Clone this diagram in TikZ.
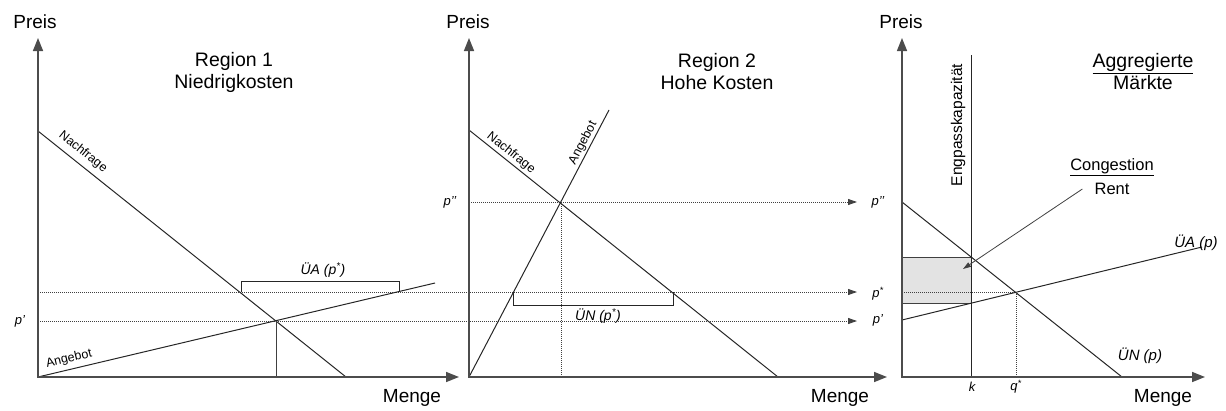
\documentclass[tikz,border=0pt]{standalone}
\usepackage{fontspec}
\setmainfont{Liberation Sans}
\usetikzlibrary{arrows.meta}
\begin{document}
\begin{tikzpicture}[x=1pt,y=-1pt,
 axis/.style={line width=1.5pt, draw=black!70, line join=miter,
   {Triangle[length=13pt,width=10pt]}-{Triangle[length=13pt,width=10pt]}},
 curve/.style={line width=1pt, draw=black!85},
 thin/.style={line width=0.8pt, draw=black!75},
 guide/.style={line width=0.9pt, draw=black!75, dash pattern=on 1pt off 1pt},
 guidearrow/.style={guide, -{Triangle[length=9pt,width=6pt]}},
 big/.style={font=\fontsize{19}{21}\selectfont, inner sep=0pt},
 title/.style={font=\fontsize{19.5}{22}\selectfont, align=center, inner sep=0pt},
 lab/.style={font=\fontsize{13}{15}\selectfont\itshape, inner sep=0pt},
 curvelab/.style={font=\fontsize{12.5}{14}\selectfont, inner sep=0pt},
 note/.style={font=\fontsize{16.5}{21}\selectfont, inner sep=0pt},
]
\useasboundingbox (0,0) rectangle (1226,410);

% ---------- Panel 1 ----------
\coordinate (O1) at (38,377);
\coordinate (Y1) at (38,38);
\coordinate (X1) at (459,377);
\coordinate (D1a) at (38,131);
\coordinate (D1b) at (346,377);
\coordinate (S1b) at (435,283);
\coordinate (E1) at (276,321);
\coordinate (E1x) at (276,377);

% ---------- Panel 2 ----------
\coordinate (O2) at (469,377);
\coordinate (Y2) at (469,38);
\coordinate (X2) at (887,377);
\coordinate (D2a) at (469,130);
\coordinate (D2b) at (778,377);
\coordinate (S2b) at (609,110);
\coordinate (E2) at (561,202);
\coordinate (E2x) at (561,377);

% ---------- Panel 3 ----------
\coordinate (O3) at (902,377);
\coordinate (Y3) at (902,38);
\coordinate (X3) at (1205,377);
\coordinate (Ka) at (971,55);
\coordinate (Kb) at (971,377);
\coordinate (Na) at (902,202);
\coordinate (Nb) at (1122,377);
\coordinate (Aa) at (902,320);
\coordinate (Ab) at (1202,247);
\coordinate (E3) at (1016,292);
\coordinate (E3x) at (1016,377);

% guide lines across panels
\coordinate (ppL) at (469,202);
\coordinate (ppR) at (857,202);
\coordinate (psL) at (38,292);
\coordinate (psR) at (857,292);
\coordinate (p1L) at (38,321);
\coordinate (p1R) at (857,321);

% shaded congestion rent
\fill[gray!22] (902,257) rectangle (971,303);
\draw[thin] (902,257) -- (971,257);
\draw[thin] (902,303) -- (971,303);
\draw[guide] (902,292) -- (E3);

\draw[guidearrow] (ppL) -- (ppR);
\draw[guidearrow] (psL) -- (psR);
\draw[guidearrow] (p1L) -- (p1R);

% panel 1 curves
\draw[curve] (D1a) -- (D1b);
\draw[curve] (O1) -- (S1b);
\draw[thin] (E1) -- (E1x);
\draw[curve] (241,292) -- (241,281) -- (399,281) -- (399,292);

% panel 2 curves
\draw[curve] (D2a) -- (D2b);
\draw[curve] (O2) -- (S2b);
\draw[guide] (E2) -- (E2x);
\draw[curve] (513,292) -- (513,305) -- (673,305) -- (673,292);

% panel 3 curves
\draw[curve] (Ka) -- (Kb);
\draw[curve] (Na) -- (Nb);
\draw[curve] (Aa) -- (Ab);
\draw[guide] (E3) -- (E3x);

% axes
\draw[axis] (Y1) -- (O1) -- (X1);
\draw[axis] (Y2) -- (O2) -- (X2);
\draw[axis] (Y3) -- (O3) -- (X3);

% axis labels
\node[big] (pr1) at (35,22) {Preis};
\node[big] (pr2) at (468,22) {Preis};
\node[big] (pr3) at (901,22) {Preis};
\node[big] (me1) at (412,398) {Menge};
\node[big] (me2) at (840,398) {Menge};
\node[big] (me3) at (1163,398) {Menge};

% titles
\node[title] (t1) at (234,72) {Region 1\\Niedrigkosten};
\node[title] (t2) at (717,72) {Region 2\\Hohe Kosten};
\node[title] (t3) at (1143,72) {\underline{Aggregierte}\\Märkte};

% curve labels
\node[curvelab, rotate=-38.7] (n1) at (83,152) {Nachfrage};
\node[curvelab, rotate=13.1] (a1) at (69,359) {Angebot};
\node[curvelab, rotate=-38.6] (n2) at (511,153) {Nachfrage};
\node[curvelab, rotate=62.5] (a2) at (583,143) {Angebot};
\node[curvelab, rotate=90, font=\fontsize{15.5}{17}\selectfont] (eng) at (958,125) {Engpasskapazität};

% price labels
\node[lab] (lp1) at (20,321) {p'};
\node[lab] (lpp2) at (450,202) {p'{}'};
\node[lab] (lpp3) at (878,202) {p'{}'};
\node[lab] (lps3) at (878,294) {p\textsuperscript{*}};
\node[lab] (lp3) at (878,320) {p'};
\node[lab] (lk) at (972,387) {k};
\node[lab] (lq) at (1016,387) {q\textsuperscript{*}};

% bracket / curve labels
\node[lab, font=\fontsize{14}{16}\selectfont\itshape] (ua1) at (323,270) {ÜA (p\textsuperscript{*})};
\node[lab, font=\fontsize{14}{16}\selectfont\itshape] (un2) at (598,316) {ÜN (p\textsuperscript{*})};
\node[lab, font=\fontsize{15}{17}\selectfont\itshape] (ua3) at (1196,243) {ÜA (p)};
\node[lab, font=\fontsize{15}{17}\selectfont\itshape] (un3) at (1140,356) {ÜN (p)};

% congestion rent
\node[note] (cr1) at (1112,167) {\underline{Congestion}};
\node[note] (cr2) at (1112,189) {Rent};
\coordinate (crtip) at (963,269);
\draw[thin, -{Triangle[length=8pt,width=5pt]}] ([xshift=-12pt]cr2.west) -- (crtip);
\end{tikzpicture}
\end{document}
